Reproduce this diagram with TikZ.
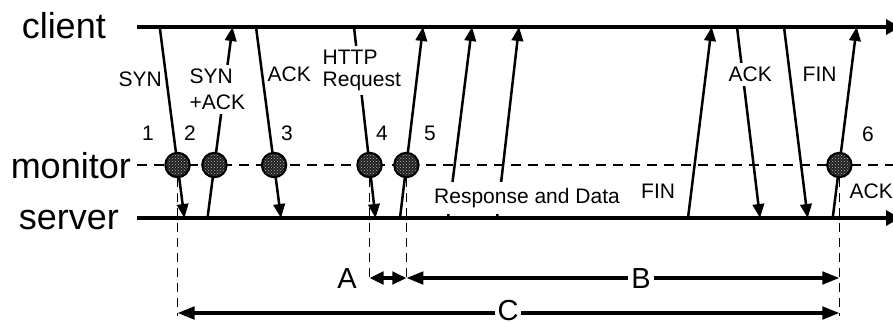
\documentclass[tikz,border=0pt]{standalone}
\usepackage{fontspec}
\setmainfont{Liberation Sans}
\usetikzlibrary{arrows.meta,patterns,calc}

\begin{document}
\begin{tikzpicture}[x=1pt,y=-1pt,
  axis/.style={line width=3.8pt, -{Triangle[length=14pt,width=15pt]}},
  probe/.style={line width=2.7pt, dash pattern=on 10pt off 7pt},
  msg/.style={line width=2.5pt, -{Triangle[length=14pt,width=11.5pt]}},
  tap/.style={circle, draw, line width=2pt, minimum size=24.5pt, inner sep=0pt,
    preaction={fill=black!88}, pattern=crosshatch dots, pattern color=gray!55},
  guide/.style={line width=1.1pt, dash pattern=on 9pt off 6pt},
  span/.style={line width=3.3pt, {Triangle[length=17pt,width=12.5pt]}-{Triangle[length=17pt,width=12.5pt]}},
  spanA/.style={line width=3.3pt, {Triangle[length=14pt,width=12.5pt]}-{Triangle[length=14pt,width=12.5pt]}},
  big/.style={font=\fontsize{36}{42}\selectfont, inner sep=0pt},
  mid/.style={font=\fontsize{29}{33}\selectfont, inner sep=0pt},
  lbl/.style={font=\fontsize{21}{25}\selectfont, inner sep=0pt},
  gap/.style={fill=white, inner sep=4pt},
]
\useasboundingbox (0,0) rectangle (893,322);

% time axes
\coordinate (cl0) at (137,27);  \coordinate (cl1) at (900,27);
\coordinate (mo0) at (137,165); \coordinate (mo1) at (893,165);
\coordinate (sv0) at (137,218); \coordinate (sv1) at (900,218);
\draw[axis] (cl0) -- (cl1);
\draw[axis] (sv0) -- (sv1);
\draw[probe] (mo0) -- (mo1);

\node[big, anchor=base east] (tclient) at (106,38) {client};
\node[big, anchor=base east] (tmonitor) at (131,178) {monitor};
\node[big, anchor=base east] (tserver) at (119,229) {server};

% message end points on the client and server axes
\foreach \n/\xc/\xs in {1/159.7/184.4, 2/232.5/207.5, 3/256/281, 4/354/375.5,
    5/423/400, 6/472/448, 7/519/497, 8/711.7/688, 9/737/760, 10/784/807.7,
    11/856.7/832.7} {
  \coordinate (c\n) at (\xc,27);
  \coordinate (s\n) at (\xs,218);
}

% client to server
\foreach \n in {1,3,4,9,10} \draw[msg] (c\n) -- (s\n);
% server to client
\foreach \n in {2,5,6,7,8,11} \draw[msg] (s\n) -- (c\n);

% message labels
\node[lbl, anchor=base west] (lsyn) at (118.5,86.7) {SYN};
\node[lbl, gap, align=left, anchor=north west, font=\fontsize{21}{25.7}\selectfont]
  (lsynack) at (185.5,65) {SYN\\+ACK};
\node[lbl, anchor=base west] (lack) at (267.5,81) {ACK};
\node[lbl, gap, align=left, anchor=north west, font=\fontsize{21}{21.7}\selectfont]
  (lreq) at (318.5,46) {HTTP\\Request};
\node[lbl, gap, anchor=base west, inner ysep=6pt] (ldata) at (430,203.5) {Response and Data};
\node[lbl, anchor=base west] (lfin1) at (641,198) {FIN};
\node[lbl, gap, anchor=base west] (lack2) at (724.5,81.7) {ACK};
\node[lbl, anchor=base west] (lfin2) at (802.5,81.7) {FIN};
\node[lbl, anchor=base west] (lack3) at (849.5,198) {ACK};

% monitor capture points
\node[tap] (m1) at ($(c1)!0.7225!(s1)$) {};
\node[tap] (m2) at ($(s2)!0.2775!(c2)$) {};
\node[tap] (m3) at ($(c3)!0.7225!(s3)$) {};
\node[tap] (m4) at ($(c4)!0.7225!(s4)$) {};
\node[tap] (m5) at ($(s5)!0.2775!(c5)$) {};
\node[tap] (m6) at ($(s11)!0.2775!(c11)$) {};

\node[lbl, anchor=base] (n1) at (148,140) {1};
\node[lbl, anchor=base] (n2) at (190,140) {2};
\node[lbl, anchor=base] (n3) at (287,140) {3};
\node[lbl, anchor=base] (n4) at (382,140) {4};
\node[lbl, anchor=base] (n5) at (430,140) {5};
\node[lbl, anchor=base] (n6) at (868,141) {6};

% intervals
\coordinate (a0) at (m4 |- 0,278);
\coordinate (a1) at (m5 |- 0,278);
\coordinate (b1) at (m6 |- 0,278);
\coordinate (k0) at (m1 |- 0,313);
\coordinate (k1) at (m6 |- 0,313);
\coordinate (g1) at (m1 |- 0,316);
\coordinate (g4) at (m4 |- 0,280);
\coordinate (g5) at (m5 |- 0,280);
\coordinate (g6) at (m6 |- 0,316);

\draw[guide] (m1.south) -- (g1);
\draw[guide] (m4.south) -- (g4);
\draw[guide] (m5.south) -- (g5);
\draw[guide] (m6.south) -- (g6);

\draw[spanA] (a0) -- (a1);
\draw[span] (a1) -- (b1);
\draw[span] (k0) -- (k1);

\node[mid, anchor=base] (ta) at (347,288) {A};
\node[mid, anchor=base, fill=white, inner xsep=3pt, inner ysep=1pt] (tb) at (641,288) {B};
\node[mid, anchor=base, fill=white, inner xsep=3pt, inner ysep=0.5pt] (tc) at (508,320.3) {C};
\end{tikzpicture}
\end{document}
